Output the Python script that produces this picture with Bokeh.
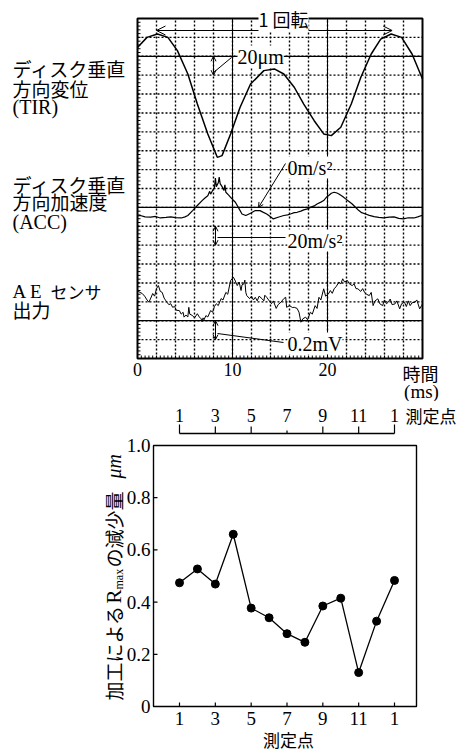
import math
from bokeh.plotting import figure
from bokeh.models import Range1d, Label, Arrow, OpenHead
from bokeh.core.properties import value
from bokeh.layouts import column
from bokeh.embed import file_html
from bokeh.resources import INLINE

# ---------------- data ----------------
# upper oscilloscope panel: time in ms, vertical position in graticule divisions
tir_time = [0.0, 1.0, 2.1, 3.2, 4.2, 5.3, 6.3, 7.4, 8.4, 8.9, 9.8, 10.8, 11.9, 13.3, 14.4,
            15.4, 16.5, 17.5, 18.6, 19.6, 20.4, 21.4, 22.5, 23.5, 24.6, 25.6, 26.7, 27.8, 28.9, 30.0]
tir_div = [16.47, 17.0, 17.18, 17.0, 16.3, 15.06, 13.47, 11.89, 10.65, 10.74, 11.89, 13.3, 14.53, 15.24, 15.33,
           15.06, 14.36, 13.47, 12.59, 11.89, 11.8, 12.24, 13.47, 14.88, 16.12, 16.91, 17.18, 17.0, 16.12, 14.8]

acc_time = [0.0, 0.3, 0.8, 1.4, 1.9, 2.4, 3.0, 3.5, 4.0, 4.6, 5.0, 5.3, 5.8, 6.3, 6.8, 7.1, 7.4, 7.6, 7.7,
            7.9, 8.1, 8.2, 8.3, 8.5, 8.6, 8.7, 8.9, 9.1, 9.2, 9.3, 9.6, 9.8, 10.3, 10.7, 11.0, 11.4, 11.9,
            12.4, 12.9, 13.2, 13.6, 14.0, 14.3, 14.8, 15.4, 15.8, 16.1, 16.5, 16.8, 17.2, 17.5, 17.9, 18.2,
            18.6, 18.9, 19.3, 19.6, 19.9, 20.1, 20.4, 20.7, 21.0, 21.2, 21.6, 21.9, 22.3, 22.6, 23.0, 23.3,
            23.6, 24.0, 24.4, 24.9, 25.4, 25.9, 26.5, 27.0, 27.5, 28.0, 28.5, 29.1, 29.5, 29.9, 30.0]
acc_div = [7.55, 7.57, 7.50, 7.48, 7.52, 7.44, 7.47, 7.50, 7.46, 7.44, 7.50, 7.57, 7.83, 8.10, 8.36, 8.50, 8.62, 8.85, 8.70,
           8.89, 9.05, 9.55, 9.10, 9.30, 9.60, 9.26, 9.10, 8.89, 9.20, 8.80, 8.65, 8.53, 8.27, 7.92, 7.65, 7.57, 7.69,
           7.83, 7.83, 7.75, 7.65, 7.50, 7.39, 7.48, 7.57, 7.60, 7.65, 7.72, 7.74, 7.80, 7.87, 7.92, 8.00,
           8.08, 8.18, 8.28, 8.36, 8.55, 8.62, 8.75, 8.80, 8.76, 8.71, 8.58, 8.45, 8.30, 8.18, 7.98, 7.83,
           7.72, 7.65, 7.58, 7.51, 7.47, 7.44, 7.48, 7.50, 7.42, 7.39, 7.45, 7.44, 7.50, 7.57, 7.55]

ae_time = [0.0, 0.25, 0.5, 0.75, 1.0, 1.2, 1.4, 1.6, 1.8, 2.0, 2.2, 2.4, 2.6, 2.8, 3.0, 3.1, 3.3, 3.5, 3.7, 3.9,
           4.1, 4.4, 4.6, 4.8, 4.9, 5.1, 5.3, 5.4, 5.5, 5.8, 6.0, 6.3, 6.5, 6.7, 6.8, 6.9, 7.0, 7.2, 7.4, 7.7,
           7.9, 8.1, 8.3, 8.5, 8.8, 9.0, 9.3, 9.5, 9.8, 10.1, 10.3, 10.5, 10.7, 10.9, 11.0, 11.2, 11.3, 11.4,
           11.5, 11.8, 12.0, 12.2, 12.4, 12.6, 12.8, 13.1, 13.3, 13.4, 13.6, 13.8, 14.1, 14.3, 14.6, 14.8,
           15.1, 15.4, 15.6, 15.7, 16.0, 16.3, 16.5, 16.8, 17.0, 17.2, 17.4, 17.7, 17.9, 18.2, 18.4, 18.7,
           18.9, 19.1, 19.3, 19.6, 19.8, 20.1, 20.3, 20.5, 20.7, 20.9, 21.2, 21.4, 21.6, 21.8, 22.1, 22.3,
           22.6, 22.8, 23.0, 23.2, 23.5, 23.7, 23.9, 24.1, 24.4, 24.6, 24.8, 25.0, 25.3, 25.5, 25.8, 26.0,
           26.2, 26.4, 26.6, 26.8, 27.1, 27.3, 27.6, 27.8, 28.1, 28.3, 28.5, 28.7, 28.9, 29.2, 29.4, 29.7,
           29.9, 30.0]
ae_div = [3.60, 3.50, 3.44, 3.30, 3.10, 2.98, 3.20, 3.44, 3.30, 3.70, 3.86, 3.55, 3.50, 3.20, 3.05, 2.98, 2.85, 2.90, 2.71, 2.75,
          2.55, 2.54, 2.35, 2.45, 2.19, 2.30, 2.20, 2.71, 2.35, 2.27, 2.15, 2.37, 2.20, 2.10, 1.95, 2.15, 2.05, 2.27, 2.20, 2.54,
          2.45, 2.75, 2.90, 2.80, 3.17, 3.10, 3.50, 3.40, 4.13, 4.30, 4.10, 3.86, 4.05, 3.60, 3.90, 3.95, 4.15, 3.50,
          3.33, 3.17, 3.30, 3.10, 3.24, 3.05, 3.30, 3.17, 3.05, 3.35, 3.24, 3.10, 2.90, 3.05, 2.65, 2.85,
          2.98, 3.17, 3.24, 2.71, 2.80, 2.70, 2.71, 2.65, 2.45, 1.92, 2.10, 2.19, 2.05, 2.45, 2.35, 2.80,
          2.65, 3.24, 3.10, 3.69, 3.30, 3.42, 3.60, 3.45, 3.69, 3.80, 4.04, 3.95, 4.22, 4.05, 4.13, 3.95,
          3.86, 3.95, 3.70, 3.69, 3.55, 3.70, 3.50, 3.40, 3.33, 3.50, 2.80, 3.05, 3.16, 2.90, 2.80, 3.10,
          2.90, 2.98, 3.15, 2.85, 2.89, 3.05, 2.63, 2.90, 2.98, 2.75, 3.05, 2.80, 2.95, 2.98, 3.10, 2.63,
          2.80, 2.89]

time_ticks = [0, 10, 20]
time_tick_labels = ["0", "10", "20"]

# lower panel: reduction of Rmax by machining vs. measuring point (13 = point 1 again)
points = [1, 2, 3, 4, 5, 6, 7, 8, 9, 10, 11, 12, 13]
rmax_reduction = [0.474, 0.527, 0.469, 0.660, 0.377, 0.340, 0.279, 0.246, 0.385, 0.415, 0.130, 0.327, 0.483]
point_ticks = [1, 3, 5, 7, 9, 11, 13]
point_tick_labels = ["1", "3", "5", "7", "9", "11", "1"]
value_ticks = [0, 0.2, 0.4, 0.6, 0.8, 1.0]
value_tick_labels = ["0", "0.2", "0.4", "0.6", "0.8", "1.0"]

# ---------------- layout constants (pixels) ----------------
SERIF = "Liberation Serif"
CJK = "Noto Sans CJK JP"
W = 467
H1 = 401
H2 = 751 - H1

# upper panel pixel geometry
MS_PX = 9.5            # px per ms
DIV_PX = 340.0 / 18.0  # px per division
BOX_X0 = 137.0         # px of t = 0
BOX_Y0 = 358.0         # px of div = 0

# lower panel pixel geometry (relative to page top)
PT_PX = 215.0 / 12.0   # px per measuring point
PT1_X = 179.0          # px of point 1
V_PX = 261.0           # px per 1.0 um
ZERO_Y = 706.0 - H1    # px of 0 inside the lower canvas


def ux(px):
    return (px - BOX_X0) / MS_PX


def uy(py):
    return (BOX_Y0 - py) / DIV_PX


def lx(px):
    return 1 + (px - PT1_X) / PT_PX


def ly(py_abs):
    return (ZERO_Y - (py_abs - H1)) / V_PX


def lab(fig, x, y, text, font=CJK, size="19px", align="left", baseline="middle", angle=0.0, bg=None, style="normal"):
    l = Label(x=x, y=y, text=text, text_font=font, text_font_size=size, text_align=align,
              text_baseline=baseline, angle=angle, text_color="black", text_font_style=style)
    if bg is not None:
        l.background_fill_color = bg
    fig.add_layout(l)
    return l


def base_fig(w, h, xr, yr):
    f = figure(width=w, height=h, x_range=xr, y_range=yr, min_border=0,
               x_axis_location=None, y_axis_location=None, toolbar_location=None,
               output_backend="svg")
    f.outline_line_color = None
    f.background_fill_color = "white"
    f.border_fill_color = "white"
    f.xgrid.visible = False
    f.ygrid.visible = False
    return f


# ================= upper oscilloscope figure =================
p1 = base_fig(W, H1, Range1d(ux(0), ux(W)), Range1d(uy(H1), uy(0)))

# dotted graticule
gx = [2 * k for k in range(1, 15)]
p1.segment(x0=gx, y0=[0] * len(gx), x1=gx, y1=[18] * len(gx), line_color="black",
           line_width=1.4, line_dash="2 2")
gy = list(range(1, 18))
p1.segment(x0=[0] * len(gy), y0=gy, x1=[30] * len(gy), y1=gy, line_color="black",
           line_width=1.4, line_dash="2 2")
# ruler ticks along bottom and left edges
rt = [0.4 * k for k in range(1, 75)]
p1.segment(x0=rt, y0=[0] * len(rt), x1=rt, y1=[3 / DIV_PX] * len(rt), line_color="black", line_width=1)
rl = [0.2 * k for k in range(1, 90)]
p1.segment(x0=[0] * len(rl), y0=rl, x1=[3 / MS_PX] * len(rl), y1=rl, line_color="black", line_width=1)

# solid reference lines
p1.segment(x0=[0, 0, 0], y0=[16, 8, 2], x1=[30, 30, 30], y1=[16, 8, 2], line_color="black", line_width=1.3)
p1.segment(x0=[10, 20], y0=[0, 0], x1=[10, 20], y1=[18, 18], line_color="black", line_width=1.0)

# traces
p1.line(tir_time, tir_div, line_color="black", line_width=1.5)
p1.line(acc_time, acc_div, line_color="black", line_width=1.2)
p1.line(ae_time, ae_div, line_color="black", line_width=1.0)

# outer box
p1.quad(left=[0], right=[30], bottom=[0], top=[18], fill_color=None, line_color="black", line_width=2)

# time tick labels
p1.text(x=time_ticks, y=[uy(369)] * len(time_ticks), text=time_tick_labels, text_font=value(SERIF),
        text_font_size="18px", text_align="center", text_baseline="middle", text_color="black")
lab(p1, ux(420), uy(372), "時間", size="18px", align="center")
lab(p1, ux(421), uy(391), "(ms)", font=SERIF, size="19px", align="center")

# one revolution arrow
p1.add_layout(Arrow(x_start=2.0, y_start=uy(30), x_end=26.8, y_end=uy(30), line_width=1,
                    start=OpenHead(size=9, line_width=1), end=OpenHead(size=9, line_width=1)))
lab(p1, ux(283), 18.0, "1 回転", size="18px", align="center", bg="white")

# 20 um
p1.add_layout(Arrow(x_start=8.0, y_start=16.0, x_end=8.0, y_end=15.0, line_width=1,
                    start=OpenHead(size=5, line_width=1), end=OpenHead(size=5, line_width=1)))
p1.segment(x0=[8.0], y0=[uy(72)], x1=[ux(231)], y1=[uy(57)], line_color="black", line_width=1)
lab(p1, ux(237), uy(56), "20\u03bcm", font=SERIF, size="20px", bg="white")

# 0 m/s2
p1.add_layout(Arrow(x_start=ux(285), y_start=uy(163), x_end=ux(258), y_end=uy(207), line_width=1,
                    end=OpenHead(size=5, line_width=1)))
lab(p1, ux(287), uy(167), "0m/s\u00b2", font=SERIF, size="20px", bg="white")

# 20 m/s2
p1.add_layout(Arrow(x_start=ux(215), y_start=7.0, x_end=ux(215), y_end=6.0, line_width=1,
                    start=OpenHead(size=5, line_width=1), end=OpenHead(size=5, line_width=1)))
p1.segment(x0=[ux(217)], y0=[uy(237)], x1=[ux(285)], y1=[uy(237)], line_color="black", line_width=1)
lab(p1, ux(287), uy(240), "20m/s\u00b2", font=SERIF, size="20px", bg="white")

# 0.2 mV
p1.add_layout(Arrow(x_start=ux(215), y_start=2.0, x_end=ux(215), y_end=1.0, line_width=1,
                    start=OpenHead(size=5, line_width=1), end=OpenHead(size=5, line_width=1)))
p1.segment(x0=[ux(217)], y0=[uy(333)], x1=[ux(283)], y1=[uy(342)], line_color="black", line_width=1)
lab(p1, ux(287), uy(343), "0.2mV", font=SERIF, size="20px", bg="white")

# left-hand channel labels
XL = ux(12)
lab(p1, XL, uy(68), "ディスク垂直")
lab(p1, XL, uy(88), "方向変位")
lab(p1, XL, uy(106), "(TIR)", font=SERIF, size="20px")
lab(p1, XL, uy(184), "ディスク垂直")
lab(p1, XL, uy(201), "方向加速度")
lab(p1, XL, uy(221), "(ACC)", font=SERIF, size="20px")
lab(p1, XL, uy(291), "A E", font=SERIF, size="19px")
lab(p1, ux(50), uy(291), "センサ", size="17px")
lab(p1, XL, uy(309), "出力")

# ================= lower figure =================
p2 = base_fig(W, H2, Range1d(lx(0), lx(W)), Range1d(ly(751), ly(H1)))
BOX_L = lx(153)
BOX_R = lx(416)

# frame box
p2.quad(left=[BOX_L], right=[BOX_R], bottom=[0], top=[1.0], fill_color=None, line_color="black", line_width=1.4)

# y ticks (inward) and labels
p2.segment(x0=[BOX_L] * len(value_ticks), y0=value_ticks, x1=[BOX_L + 4 / PT_PX] * len(value_ticks),
           y1=value_ticks, line_color="black", line_width=1.2)
p2.text(x=[BOX_L - 3 / PT_PX] * len(value_ticks), y=value_ticks, text=value_tick_labels,
        text_font=value(SERIF), text_font_size="19px", text_align="right", text_baseline="middle",
        text_color="black")

# x ticks (inward) and labels
p2.segment(x0=point_ticks, y0=[0] * len(point_ticks), x1=point_ticks, y1=[4 / V_PX] * len(point_ticks),
           line_color="black", line_width=1.2)
p2.text(x=point_ticks, y=[ly(718)] * len(point_ticks), text=point_tick_labels,
        text_font=value(SERIF), text_font_size="19px", text_align="center", text_baseline="middle",
        text_color="black")
lab(p2, lx(288), ly(739), "測定点", size="17px", align="center")

# measuring-point bracket above the chart
BR_Y = ly(433)
bracket_len_px = [9, 7, 7, 3, 7, 7, 9]
p2.segment(x0=[1], y0=[BR_Y], x1=[13], y1=[BR_Y], line_color="black", line_width=1.3)
p2.segment(x0=point_ticks, y0=[BR_Y] * len(point_ticks), x1=point_ticks,
           y1=[BR_Y + L / V_PX for L in bracket_len_px], line_color="black", line_width=1.2)
p2.text(x=point_ticks, y=[ly(415)] * len(point_ticks), text=point_tick_labels,
        text_font=value(SERIF), text_font_size="18px", text_align="center", text_baseline="middle",
        text_color="black")
lab(p2, lx(405), ly(415), "測定点", size="17px")

# data
p2.line(points, rmax_reduction, line_color="black", line_width=1.3)
p2.scatter(points, rmax_reduction, size=8, fill_color="black", line_color="black")

# rotated y-axis title: 加工によるRmaxの減少量 μm
A = math.pi / 2
lab(p2, lx(113), ly(700), "加工による", size="19px", angle=A)
lab(p2, lx(113), ly(603), "R", font=SERIF, size="21px", angle=A)
lab(p2, lx(118), ly(589), "max", font=SERIF, size="12px", angle=A)
lab(p2, lx(113), ly(567), "の減少量", size="19px", angle=A)
lab(p2, lx(113), ly(478), "\u03bcm", font=SERIF, size="20px", angle=A, style="italic")

layout = column(p1, p2, spacing=0)
open("out.html", "w").write(file_html(layout, INLINE))
